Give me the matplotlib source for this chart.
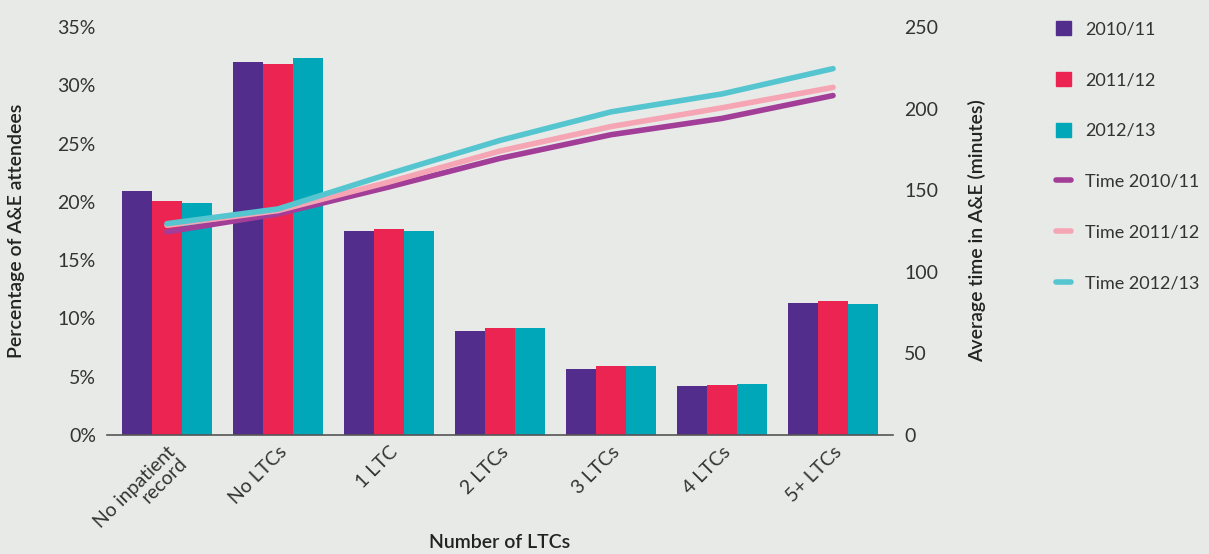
import numpy as np
import matplotlib.pyplot as plt
from matplotlib.lines import Line2D
from matplotlib.patches import Patch

categories = ['No inpatient\nrecord', 'No LTCs', '1 LTC', '2 LTCs', '3 LTCs', '4 LTCs', '5+ LTCs']
years = ['2010/11', '2011/12', '2012/13']

# percentage of A&E attendees
pct_1011 = [20.9, 32.0, 17.5, 8.9, 5.7, 4.2, 11.3]
pct_1112 = [20.1, 31.8, 17.7, 9.2, 5.9, 4.3, 11.5]
pct_1213 = [19.9, 32.3, 17.5, 9.2, 5.9, 4.4, 11.2]

# average time in A&E (minutes)
time_1011 = [124.5, 135.5, 152, 169.5, 184, 194, 208]
time_1112 = [128.5, 137.5, 155, 174, 189, 200.5, 213]
time_1213 = [129.5, 138.5, 160, 180.5, 198, 209, 224.5]

bar_colors = ['#532D8C', '#EC2452', '#00A7B8']
line_colors = ['#A23E97', '#F6A5B5', '#55C5D0']
bg = '#E8EAE7'
txt = '#333333'

plt.rcParams['font.family'] = ['Lato', 'DejaVu Sans']

fig = plt.figure(figsize=(12.09, 5.54), dpi=100, facecolor=bg)
ax = fig.add_axes([107/1209, 1-435/554, (893-107)/1209, (435-27)/554])
ax.set_facecolor(bg)
ax2 = ax.twinx()

x = np.arange(len(categories))
w = 0.27
for i, vals in enumerate([pct_1011, pct_1112, pct_1213]):
    ax.bar(x + (i-1)*w, vals, width=w, color=bar_colors[i], label=years[i], zorder=2)

for i, vals in enumerate([time_1011, time_1112, time_1213]):
    ax2.plot(x, vals, color=line_colors[i], lw=4, solid_capstyle='round', label='Time ' + years[i])

ax.set_xlim(-0.54, 6.54)
ax.set_ylim(0, 35)
ax2.set_ylim(0, 250)
ax.set_yticks(np.arange(0, 36, 5))
ax.set_yticklabels([f'{v}%' for v in range(0, 36, 5)])
ax2.set_yticks(np.arange(0, 251, 50))

for a in (ax, ax2):
    for s in a.spines.values():
        s.set_visible(False)
ax.spines['bottom'].set_visible(True)
ax.spines['bottom'].set_color('#555555')
ax.spines['bottom'].set_linewidth(1.2)

ax.tick_params(axis='y', length=0, pad=8, labelsize=14, labelcolor=txt)
ax2.tick_params(axis='y', length=0, pad=8, labelsize=14, labelcolor=txt)
ax.set_xticks(x)
ax.set_xticklabels(categories, rotation=45, ha='right', rotation_mode='anchor',
                   fontsize=14, color=txt, linespacing=0.95)
ax.tick_params(axis='x', length=0, pad=6)

ax.set_ylabel('Percentage of A&E attendees', fontsize=14, color='#222222', fontweight='semibold')
ax.yaxis.set_label_coords(-82/786, 0.5)
ax2.set_ylabel('Average time in A&E (minutes)', fontsize=14, color='#222222', fontweight='semibold')
ax2.yaxis.set_label_coords(1 + 75/786, 0.5)
fig.text(500/1209, 1-543/554, 'Number of LTCs', fontsize=14, color='#222222',
         fontweight='semibold', ha='center', va='center')

handles = [Patch(color=c) for c in bar_colors] + \
          [Line2D([0], [0], color=c, lw=4, solid_capstyle='round') for c in line_colors]
labels = years + ['Time ' + y for y in years]
leg = fig.legend(handles, labels, loc='upper left', bbox_to_anchor=(1056/1209, 1-21/554),
                 frameon=False, fontsize=13, labelspacing=1.9, handlelength=0.85,
                 handleheight=0.85, handletextpad=0.75, borderpad=0, borderaxespad=0,
                 labelcolor=txt)

fig.savefig('out.png', dpi=100, facecolor=bg)
